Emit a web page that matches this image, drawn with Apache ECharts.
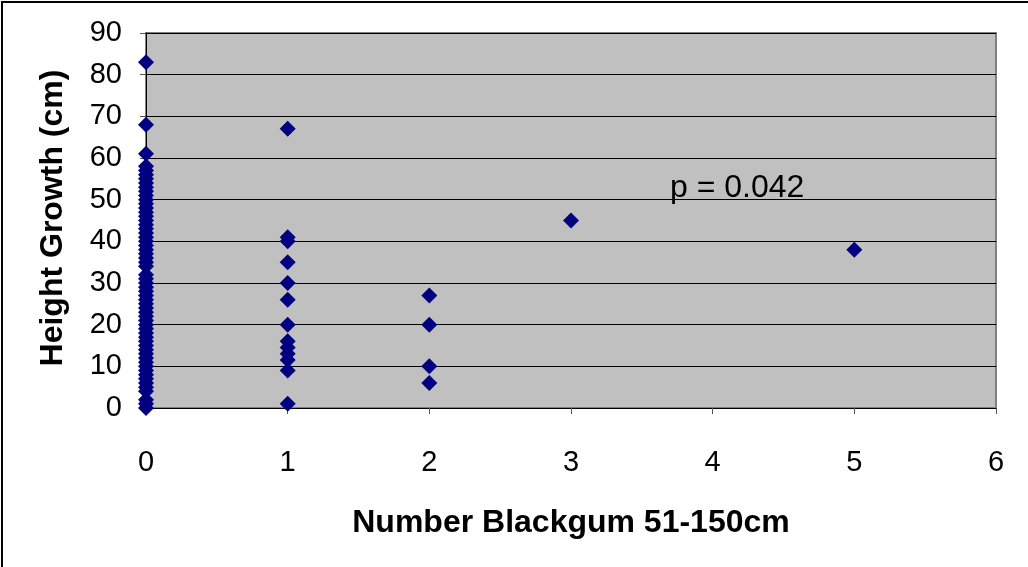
<!DOCTYPE html>
<html>
<head>
<meta charset="utf-8">
<script src="https://cdn.jsdelivr.net/npm/echarts@6/dist/echarts.min.js"></script>
<style>
html,body{margin:0;padding:0;background:#fff;}
#chart{width:1028px;height:567px;}
</style>
</head>
<body>
<div id="chart"></div>
<script>
// Data
const heights0 = [83, 68, 61, 58, 57, 56, 55, 54, 53, 52, 51, 50, 49, 48, 47, 46, 45, 44, 43, 42, 41, 40, 39, 38, 37, 36, 35, 34, 32, 31, 30, 29, 28, 27, 26, 25, 24, 23, 22, 21, 20, 19, 18, 17, 16, 15, 14, 13, 12, 11, 10, 9, 8, 7, 6, 5, 4, 2, 1, 0];
const heights1 = [67, 41, 40, 35, 30, 26, 20, 16, 14.5, 13, 11.5, 9, 1];
const heights2 = [27, 20, 10, 6];
const heights3 = [45];
const heights5 = [38];
const xTicks = [0, 1, 2, 3, 4, 5, 6];
const yTicks = [0, 10, 20, 30, 40, 50, 60, 70, 80, 90];
const xTitle = 'Number Blackgum 51-150cm';
const yTitle = 'Height Growth (cm)';
const annotation = 'p = 0.042';

const points = [];
heights0.forEach(v => points.push([0, v]));
heights1.forEach(v => points.push([1, v]));
heights2.forEach(v => points.push([2, v]));
heights3.forEach(v => points.push([3, v]));
heights5.forEach(v => points.push([5, v]));

const chart = echarts.init(document.getElementById('chart'), null, {renderer: 'canvas'});
const font = 'Arial, "Liberation Sans", sans-serif';
chart.setOption({
  animation: false,
  grid: {
    left: 146, right: 32, top: 33, bottom: 159,
    show: true, backgroundColor: '#C0C0C0', borderColor: '#808080', borderWidth: 2
  },
  xAxis: {
    type: 'value', min: xTicks[0], max: xTicks[xTicks.length - 1], interval: 1,
    axisLine: {show: true, lineStyle: {color: '#000', width: 1}},
    axisTick: {show: true, length: 6, lineStyle: {color: '#555'}},
    splitLine: {show: false},
    axisLabel: {fontSize: 29, color: '#000', fontFamily: font, margin: 40}
  },
  yAxis: {
    type: 'value', min: yTicks[0], max: yTicks[yTicks.length - 1], interval: 10,
    axisLine: {show: true, lineStyle: {color: '#000', width: 1}},
    axisTick: {show: true, length: 6, lineStyle: {color: '#555'}},
    splitLine: {show: true, lineStyle: {color: '#000', width: 1}},
    axisLabel: {fontSize: 29, color: '#000', fontFamily: font, margin: 24}
  },
  graphic: [
    {type: 'rect', silent: true, z: 100, shape: {x: 2, y: 2, width: 1060, height: 600},
     style: {fill: 'none', stroke: '#000', lineWidth: 2}},
    {type: 'text', x: 571, y: 523, style: {text: xTitle, font: 'bold 32px ' + font, fill: '#000', textAlign: 'center', textVerticalAlign: 'middle'}},
    {type: 'text', x: 53, y: 218, rotation: Math.PI / 2, style: {text: yTitle, font: 'bold 32px ' + font, fill: '#000', textAlign: 'center', textVerticalAlign: 'middle'}},
    {type: 'text', x: 670, y: 188, style: {text: annotation, font: '32px ' + font, fill: '#000', textAlign: 'left', textVerticalAlign: 'middle'}}
  ],
  series: [{
    type: 'scatter', data: points, symbol: 'diamond', symbolSize: 16,
    itemStyle: {color: '#000080', opacity: 1}
  }]
});
</script>
</body>
</html>
